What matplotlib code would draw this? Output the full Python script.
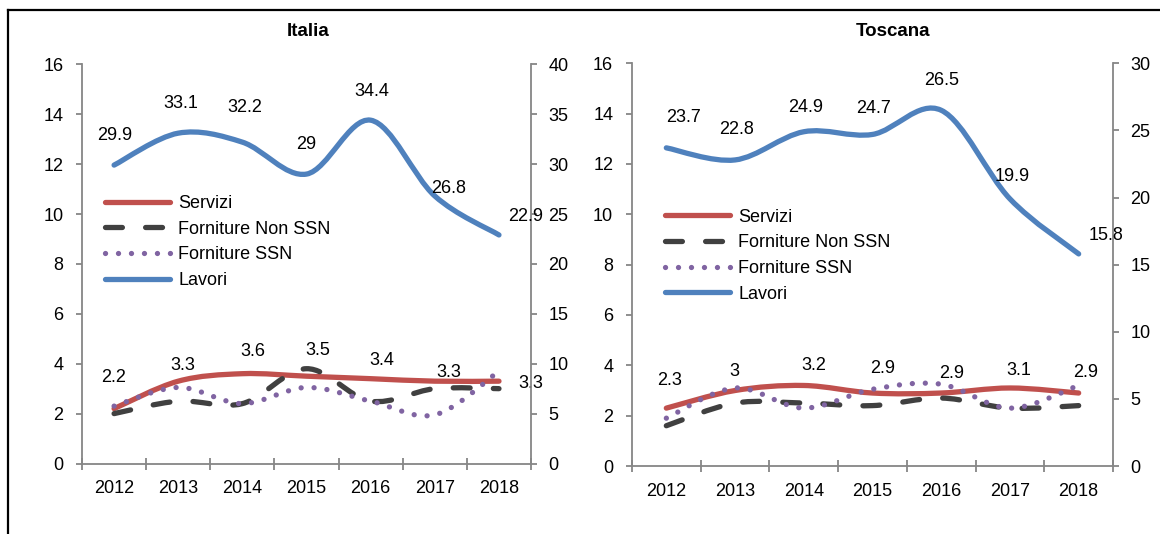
import numpy as np
import matplotlib
matplotlib.use('Agg')
import matplotlib.pyplot as plt
from matplotlib.path import Path
from matplotlib.patches import PathPatch
from matplotlib.lines import Line2D

plt.rcParams['font.family'] = ['Liberation Sans', 'DejaVu Sans']
plt.rcParams['font.size'] = 13

years = ['2012', '2013', '2014', '2015', '2016', '2017', '2018']

italia_servizi = [2.2, 3.3, 3.6, 3.5, 3.4, 3.3, 3.3]
italia_forn_non_ssn = [2.0, 2.5, 2.4, 3.8, 2.5, 3.0, 3.0]
italia_forn_ssn = [2.3, 3.05, 2.4, 3.05, 2.5, 1.95, 3.7]
italia_lavori = [29.9, 33.1, 32.2, 29.0, 34.4, 26.8, 22.9]

toscana_servizi = [2.3, 3.0, 3.2, 2.9, 2.9, 3.1, 2.9]
toscana_forn_non_ssn = [1.6, 2.5, 2.5, 2.4, 2.7, 2.3, 2.4]
toscana_forn_ssn = [1.9, 3.1, 2.3, 3.05, 3.25, 2.3, 3.2]
toscana_lavori = [23.7, 22.8, 24.9, 24.7, 26.5, 19.9, 15.8]

# label offsets in pixels (style, not data)
italia_serv_off = [(-1, 31), (5, 16), (10, 22), (11, 26), (11, 18), (14, 9), (32, -2)]
italia_lav_off = [(1, 30), (3, 30), (2, 35), (0, 30), (1, 29), (14, 8), (27, 18)]
toscana_serv_off = [(3, 28), (-1, 19), (10, 20), (10, 25), (10, 20), (9, 17), (7, 21)]
toscana_lav_off = [(17, 30), (2, 30), (2, 24), (1, 26), (0, 30), (2, 22), (27, 18)]

RED = '#C0504D'
DARK = '#404040'
PURPLE = '#8064A2'
BLUE = '#4F81BD'
GRAY = '#868686'
LW = 3.8


def smooth_path(ys):
    # excel-like smoothed line as cubic bezier segments
    pts = np.column_stack([np.arange(len(ys)), ys]).astype(float)
    n = len(pts)
    verts = [pts[0]]
    codes = [Path.MOVETO]
    for i in range(n - 1):
        p0 = pts[max(i - 1, 0)]
        p1 = pts[i]
        p2 = pts[i + 1]
        p3 = pts[min(i + 2, n - 1)]
        verts += [p1 + (p2 - p0) / 6, p2 - (p3 - p1) / 6, p2]
        codes += [Path.CURVE4] * 3
    return Path(verts, codes)


STYLES = {
    'Servizi': dict(color=RED, ls='-'),
    'Forniture Non SSN': dict(color=DARK, ls=(0, (3.2, 4.4))),
    'Forniture SSN': dict(color=PURPLE, ls=(0, (0.01, 2.45))),
    'Lavori': dict(color=BLUE, ls='-'),
}


def add_series(ax, ys, name):
    st = STYLES[name]
    patch = PathPatch(smooth_path(ys), fill=False, edgecolor=st['color'],
                      lw=LW, ls=st['ls'], capstyle='round',
                      joinstyle='round')
    ax.add_patch(patch)


def style_axes(ax, ax2, ymax2):
    ax.set_xlim(-0.5, 6.5)
    ax.set_ylim(0, 16)
    ax.set_yticks(range(0, 17, 2))
    ax2.set_ylim(0, ymax2)
    ax2.set_yticks(range(0, ymax2 + 1, 5))
    for a in (ax, ax2):
        for s in a.spines.values():
            s.set_color(GRAY)
            s.set_linewidth(1.3)
        a.spines['top'].set_visible(False)
    ax.spines['right'].set_visible(False)
    ax2.spines['left'].set_visible(False)
    ax2.spines['bottom'].set_visible(False)
    ax.set_xticks(np.arange(-0.5, 7, 1))
    ax.set_xticklabels([])
    ax.set_xticks(range(7), labels=years, minor=True)
    ax.tick_params(axis='x', which='major', direction='inout', length=9,
                   color=GRAY, width=1.3)
    ax.tick_params(axis='x', which='minor', length=0, pad=12)
    ax.tick_params(axis='y', direction='out', length=4.5, color=GRAY,
                   width=1.3, pad=9)
    ax2.tick_params(axis='y', direction='out', length=4.5, color=GRAY,
                    width=1.3, pad=8)


def label_series(ax, ys, offsets):
    for i, (v, (dx, dy)) in enumerate(zip(ys, offsets)):
        ax.annotate(f'{v:g}', (i, v), xytext=(dx, dy),
                    textcoords='offset pixels', ha='center', va='center',
                    annotation_clip=False)


def legend_handles():
    hs = []
    for name, st in STYLES.items():
        hs.append(Line2D([], [], color=st['color'], lw=LW, ls=st['ls'],
                         dash_capstyle='round', solid_capstyle='round',
                         label=name))
    return hs


fig = plt.figure(figsize=(11.6, 5.34), dpi=100)

panels = [
    ('Italia', [0.0707, 0.132, 0.3871, 0.7476], 40,
     italia_servizi, italia_forn_non_ssn, italia_forn_ssn, italia_lavori,
     italia_serv_off, italia_lav_off, (0.051, 0.555), 308),
    ('Toscana', [0.5448, 0.1273, 0.4147, 0.7542], 30,
     toscana_servizi, toscana_forn_non_ssn, toscana_forn_ssn, toscana_lavori,
     toscana_serv_off, toscana_lav_off, (0.0686, 0.522), 893),
]

for (title, rect, ymax2, serv, fnon, fssn, lav,
     serv_off, lav_off, leg_pos, title_x) in panels:
    ax = fig.add_axes(rect)
    ax2 = ax.twinx()
    style_axes(ax, ax2, ymax2)
    add_series(ax, serv, 'Servizi')
    add_series(ax, fnon, 'Forniture Non SSN')
    add_series(ax, fssn, 'Forniture SSN')
    add_series(ax2, lav, 'Lavori')
    label_series(ax, serv, serv_off)
    label_series(ax2, lav, lav_off)
    ax.legend(handles=legend_handles(), loc='center left',
              bbox_to_anchor=leg_pos, frameon=False, borderpad=0,
              borderaxespad=0, handlelength=3.6, handletextpad=0.45,
              labelspacing=0.48, fontsize=13)
    fig.text(title_x / 1160, 1 - 32 / 534, title, ha='center', va='center',
             fontweight='bold', fontsize=13.5)

# outer frame
fig.add_artist(Line2D([8 / 1160, 8 / 1160], [0, 1 - 10 / 534],
                      color='black', lw=1.6, transform=fig.transFigure))
fig.add_artist(Line2D([8 / 1160, 1], [1 - 10 / 534, 1 - 10 / 534],
                      color='black', lw=1.6, transform=fig.transFigure))

fig.savefig('out.png', dpi=100)
